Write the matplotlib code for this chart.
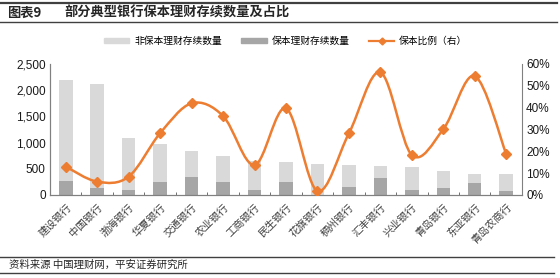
import numpy as np
import matplotlib.pyplot as plt
from matplotlib.lines import Line2D
from matplotlib.path import Path
from matplotlib.patches import PathPatch

plt.rcParams['font.family'] = ['Noto Sans CJK SC', 'DejaVu Sans']

banks = ["建设银行", "中国银行", "渤海银行", "华夏银行", "交通银行", "农业银行", "工商银行",
         "民生银行", "花旗银行", "稠州银行", "汇丰银行", "兴业银行", "青岛银行", "东亚银行",
         "青岛农商行"]
total_count = [2200, 2120, 1080, 965, 845, 750, 640, 625, 598, 578, 553, 540, 464, 406, 406]
guaranteed = [273, 128, 88, 254, 337, 254, 92, 242, 9, 158, 318, 96, 135, 223, 72]
non_guaranteed = [t - g for t, g in zip(total_count, guaranteed)]
ratio = [0.130, 0.061, 0.084, 0.283, 0.420, 0.362, 0.137, 0.397, 0.018, 0.282, 0.562,
         0.183, 0.301, 0.545, 0.188]

LIGHT = "#D9D9D9"
DARK = "#A6A6A6"
ORANGE = "#ED7D31"


def smooth_path(xs, ys):
    """Excel-like smoothed line through the points (Catmull-Rom to Bezier)."""
    pts = list(zip(xs, ys))
    verts = [pts[0]]
    codes = [Path.MOVETO]
    n = len(pts)
    for i in range(n - 1):
        p0 = pts[i - 1] if i > 0 else pts[i]
        p1 = pts[i]
        p2 = pts[i + 1]
        p3 = pts[i + 2] if i + 2 < n else pts[i + 1]
        c1 = (p1[0] + (p2[0] - p0[0]) / 6, p1[1] + (p2[1] - p0[1]) / 6)
        c2 = (p2[0] - (p3[0] - p1[0]) / 6, p2[1] - (p3[1] - p1[1]) / 6)
        verts += [c1, c2, p2]
        codes += [Path.CURVE4] * 3
    return Path(verts, codes)


fig = plt.figure(figsize=(5.6, 2.78), dpi=100)
ax = fig.add_axes([0.0893, 0.2986, 0.8427, 0.4712])
ax2 = ax.twinx()

x = np.arange(len(banks))
ax.bar(x, guaranteed, width=0.43, color=DARK, zorder=2)
ax.bar(x, non_guaranteed, width=0.43, bottom=guaranteed, color=LIGHT, zorder=2)
ax.set_xlim(-0.5, len(banks) - 0.5)
ax.set_ylim(0, 2500)
ax.set_yticks(range(0, 2501, 500))
ax.set_yticklabels([f"{v:,}" for v in range(0, 2501, 500)], fontsize=8.5,
                   family=['Liberation Sans', 'DejaVu Sans'], color="#1a1a1a")

ax2.add_patch(PathPatch(smooth_path(x, ratio), facecolor="none",
                        edgecolor=ORANGE, lw=1.8, zorder=3))
ax2.plot(x, ratio, ls="none", marker="D", markersize=5, color=ORANGE, zorder=4)
ax2.set_ylim(0, 0.6)
ax2.set_yticks(np.arange(0, 0.61, 0.1))
ax2.set_yticklabels([f"{int(round(v * 100))}%" for v in np.arange(0, 0.61, 0.1)], fontsize=8.5,
                    family=['Liberation Sans', 'DejaVu Sans'], color="#1a1a1a")

ax.set_xticks(x)
ax.set_xticklabels(banks, rotation=45, ha="right", rotation_mode="anchor", fontsize=7.5,
                   color="#404040")
ax.set_xticks(np.arange(-0.5, len(banks), 1), minor=True)
ax.tick_params(axis="x", which="major", length=0, pad=5)
ax.tick_params(axis="x", which="minor", length=2.5, direction="in", color="#595959")
ax.tick_params(axis="y", length=0, pad=3)
ax2.tick_params(axis="y", length=0, pad=3)

for a in (ax, ax2):
    a.spines["top"].set_visible(False)
    for s in ("left", "right", "bottom"):
        a.spines[s].set_color("#808080")
        a.spines[s].set_linewidth(0.8)
ax.spines["right"].set_visible(False)

handles = [
    plt.Rectangle((0, 0), 1, 1, color=LIGHT),
    plt.Rectangle((0, 0), 1, 1, color=DARK),
    Line2D([], [], color=ORANGE, lw=1.6, marker="D", markersize=3.5),
]
fig.legend(handles, ["非保本理财存续数量", "保本理财存续数量", "保本比例（右）"],
           loc="center", bbox_to_anchor=(0.51, 0.852), ncol=3, frameon=False,
           fontsize=7, handlelength=2.6, handleheight=0.35, columnspacing=2.0,
           handletextpad=0.5)

# header and footer rules
fig.add_artist(Line2D([0.0, 0.995], [0.99, 0.99], color="#404040", lw=1.6))
fig.add_artist(Line2D([0.0, 0.995], [0.922, 0.922], color="#404040", lw=1.0))
fig.add_artist(Line2D([0.0, 0.99], [0.076, 0.076], color="#404040", lw=1.0))
fig.add_artist(Line2D([0.0, 0.99], [0.018, 0.018], color="#404040", lw=1.0))

fig.text(0.012, 0.955, "图表9", fontsize=9.5, fontweight="bold", va="center", color="#262626")
fig.text(0.115, 0.955, "部分典型银行保本理财存续数量及占比", fontsize=9.5,
         fontweight="bold", va="center", color="#262626")
fig.text(0.016, 0.046, "资料来源 中国理财网，平安证券研究所", fontsize=7.5,
         style="italic", va="center", color="#262626")

fig.savefig("out.png", dpi=100)
